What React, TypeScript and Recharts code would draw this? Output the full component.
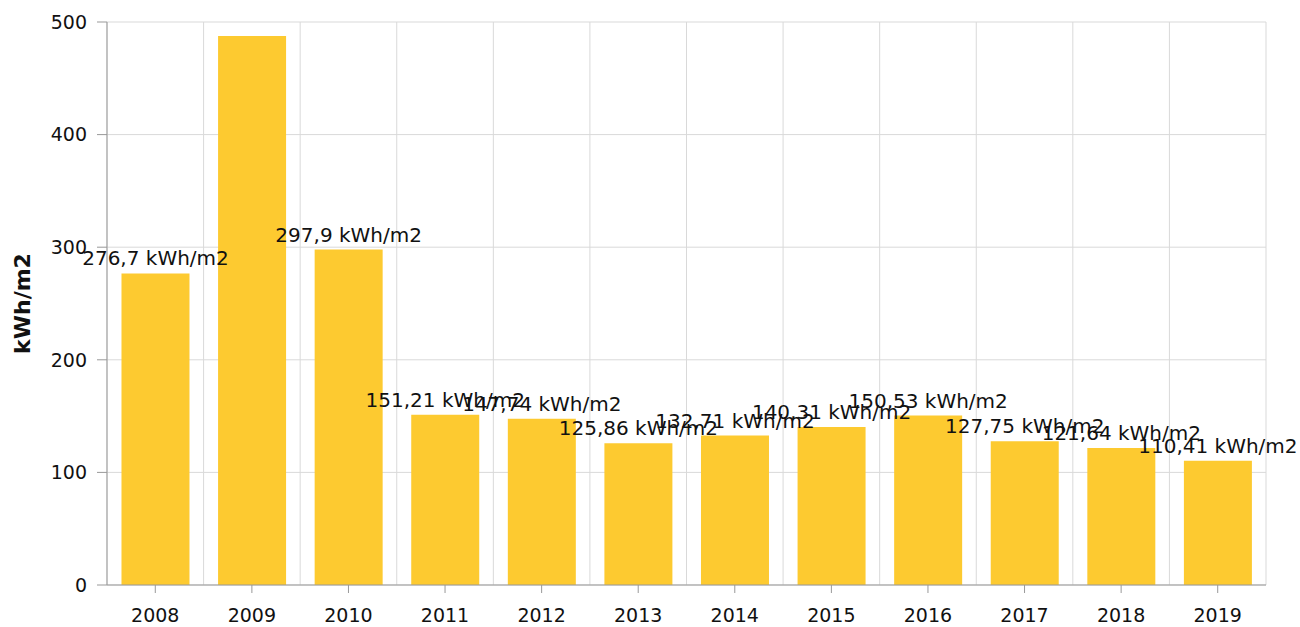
import React from 'react';
import { BarChart, Bar, XAxis, YAxis, CartesianGrid, LabelList } from 'recharts';

const years = ['2008', '2009', '2010', '2011', '2012', '2013', '2014', '2015', '2016', '2017', '2018', '2019'];
const values = [276.7, 487.5, 297.9, 151.21, 147.74, 125.86, 132.71, 140.31, 150.53, 127.75, 121.64, 110.41];
const labels = ['276,7 kWh/m2', '', '297,9 kWh/m2', '151,21 kWh/m2', '147,74 kWh/m2', '125,86 kWh/m2', '132,71 kWh/m2', '140,31 kWh/m2', '150,53 kWh/m2', '127,75 kWh/m2', '121,64 kWh/m2', '110,41 kWh/m2'];
const yTicks = [0, 100, 200, 300, 400, 500];

const data = years.map((y, i) => ({ year: y, value: values[i], label: labels[i] }));

const FONT = '"DejaVu Sans", Verdana, sans-serif';

const renderLabel = (props: any) => {
  const { x, y, width, value } = props;
  if (!value) return null;
  return (
    <text
      x={Number(x) + Number(width) / 2}
      y={Number(y) - 8}
      textAnchor="middle"
      fontSize={20}
      fill="#111111"
      fontFamily={FONT}
    >
      {value}
    </text>
  );
};

export default function App() {
  return (
    <div style={{ position: 'absolute', left: 0, top: 0, fontFamily: FONT }}>
      <BarChart
        width={1300}
        height={627}
        data={data}
        margin={{ top: 22, right: 34, bottom: 0, left: 0 }}
        barCategoryGap="15%"
      >
        <CartesianGrid
          stroke="#d9d9d9"
          verticalCoordinatesGenerator={({ offset }: any) =>
            years.map((_, i) => offset.left + (i * offset.width) / years.length).concat([offset.left + offset.width])
          }
        />
        <XAxis
          dataKey="year"
          height={42}
          tickSize={8}
          tickMargin={16}
          stroke="#999999"
          tick={{ fill: '#111111', fontSize: 19, fontFamily: FONT }}
        />
        <YAxis
          width={107}
          domain={[0, 500]}
          ticks={yTicks}
          tickSize={10}
          tickMargin={10}
          stroke="#999999"
          tick={{ fill: '#111111', fontSize: 19, fontFamily: FONT }}
          label={{
            value: 'kWh/m2',
            angle: -90,
            position: 'insideLeft',
            offset: 22,
            style: { fontWeight: 'bold', fontSize: 22, fill: '#111111', fontFamily: FONT, textAnchor: 'middle' },
          }}
        />
        <Bar dataKey="value" fill="#FDCA30" isAnimationActive={false}>
          <LabelList dataKey="label" content={renderLabel} />
        </Bar>
      </BarChart>
    </div>
  );
}
